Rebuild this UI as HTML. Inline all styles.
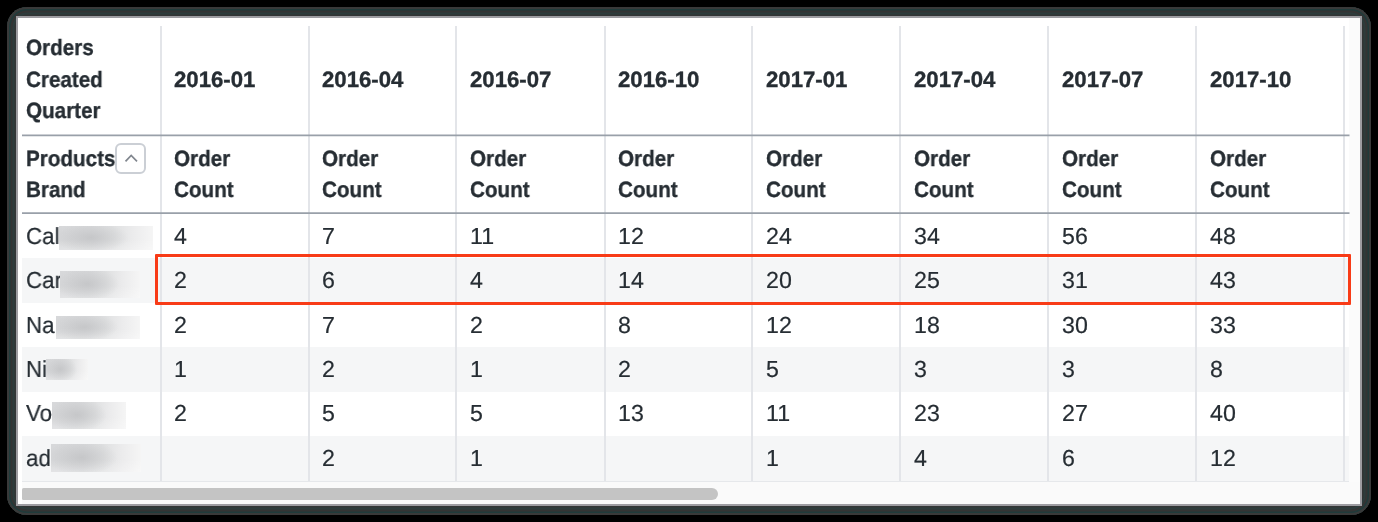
<!DOCTYPE html>
<html><head><meta charset="utf-8">
<style>
html,body{margin:0;padding:0;}
body{width:1378px;height:522px;background:#000;position:relative;overflow:hidden;font-family:"Liberation Sans",sans-serif;color:#262d33;text-rendering:geometricPrecision;}
.frame{position:absolute;left:6.7px;top:6.7px;width:1364.3px;height:508.3px;border-radius:20px;background:#323535;box-shadow:inset 0 0 0 2px #393939,inset 0 0 0 3.5px #203b3b,inset 0 0 0 5.5px #343434,inset 0 0 0 7.5px #2d3c3c;}
.inner{position:absolute;left:15.8px;top:15.8px;width:1342.2px;height:486px;background:#fff;border:2px solid #9d9ca1;}
.a{position:absolute;white-space:nowrap;will-change:transform;}
.vl{position:absolute;width:2px;background:#e3e5e9;}
.hl{position:absolute;height:2px;background:#9fa5ae;}
.band{position:absolute;left:22px;width:1327px;background:#f5f6f7;}
.b{font-weight:bold;font-size:22.2px;line-height:31.6px;-webkit-text-stroke:0.35px #262d33;}
.w{transform:scaleX(0.93);transform-origin:0 0;}
.oc{transform:scaleX(0.92);transform-origin:0 0;}
.dt{}
.d{font-size:23.2px;line-height:26px;-webkit-text-stroke:0.2px #262d33;}
.nm{transform:scaleX(0.96);transform-origin:0 0;}
.blur{position:absolute;}
</style></head><body>
<div class="frame"></div>
<div class="inner"></div>

<div class="a" style="left:22px;top:482px;width:1338px;height:21.8px;background:#fafafa"></div>
<div class="a" style="left:1349px;top:18px;width:11px;height:464px;background:#fbfbfb"></div>
<div class="band" style="top:258px;height:44.5px"></div>
<div class="band" style="top:347px;height:44.5px"></div>
<div class="band" style="top:436px;height:44.5px"></div>
<div class="a" style="left:22px;top:481px;width:1327px;height:1px;background:#e6e8eb"></div>
<div class="vl" style="left:160px;top:26px;height:455px"></div>
<div class="vl" style="left:308px;top:26px;height:455px"></div>
<div class="vl" style="left:455px;top:26px;height:455px"></div>
<div class="vl" style="left:604px;top:26px;height:455px"></div>
<div class="vl" style="left:751px;top:26px;height:455px"></div>
<div class="vl" style="left:899px;top:26px;height:455px"></div>
<div class="vl" style="left:1047px;top:26px;height:455px"></div>
<div class="vl" style="left:1195px;top:26px;height:455px"></div>
<div class="vl" style="left:1343px;top:26px;height:455px"></div>
<svg class="a" style="left:0;top:0" width="1378" height="522"><path d="M22 135.4H1349.5M22 213.1H1349.5" stroke="#99a0a9" stroke-width="1.7" fill="none"/></svg>
<div class="a b w" style="left:25.8px;top:32.1px">Orders<br>Created<br>Quarter</div>
<div class="a b dt" style="left:173.9px;top:64px">2016-01</div>
<div class="a b dt" style="left:321.9px;top:64px">2016-04</div>
<div class="a b dt" style="left:469.9px;top:64px">2016-07</div>
<div class="a b dt" style="left:617.9px;top:64px">2016-10</div>
<div class="a b dt" style="left:765.9px;top:64px">2017-01</div>
<div class="a b dt" style="left:913.9px;top:64px">2017-04</div>
<div class="a b dt" style="left:1061.9px;top:64px">2017-07</div>
<div class="a b dt" style="left:1209.9px;top:64px">2017-10</div>
<div class="a b w" style="left:25.6px;top:142.6px;line-height:31.3px">Products<br>Brand</div>
<div class="a b w" style="left:173.6px;top:142.8px;line-height:31.3px">Order<br>Count</div>
<div class="a b w" style="left:321.6px;top:142.8px;line-height:31.3px">Order<br>Count</div>
<div class="a b w" style="left:469.6px;top:142.8px;line-height:31.3px">Order<br>Count</div>
<div class="a b w" style="left:617.6px;top:142.8px;line-height:31.3px">Order<br>Count</div>
<div class="a b w" style="left:765.6px;top:142.8px;line-height:31.3px">Order<br>Count</div>
<div class="a b w" style="left:913.6px;top:142.8px;line-height:31.3px">Order<br>Count</div>
<div class="a b w" style="left:1061.6px;top:142.8px;line-height:31.3px">Order<br>Count</div>
<div class="a b w" style="left:1209.6px;top:142.8px;line-height:31.3px">Order<br>Count</div>
<div class="a" style="left:115.3px;top:142.8px;width:27.2px;height:27px;border:2px solid #cbcfd5;border-radius:6px;background:#fff"></div>
<svg class="a" style="left:116px;top:143.5px" width="30" height="30" viewBox="0 0 30 30"><path d="M9.5 17.3 L15.2 11.5 L21 17.3" fill="none" stroke="#80868e" stroke-width="1.7"/></svg>
<div class="a d nm" style="left:26.2px;top:222.50px">Cal</div>
<div class="blur" style="left:59px;top:226px;width:94px;height:24px;background:radial-gradient(ellipse 40% 62% at 34% 48%,rgba(192,193,195,0.75),rgba(192,193,195,0) 100%),linear-gradient(180deg,rgba(255,255,255,0) 55%,rgba(255,255,255,0.3) 100%),linear-gradient(90deg,#d7d8da 0%,#d8d9db 35%,#dfe0e1 58%,#ebebec 78%,#f5f5f5 100%)"></div>
<div class="a d" style="left:173.8px;top:222.50px">4</div>
<div class="a d" style="left:321.8px;top:222.50px">7</div>
<div class="a d" style="left:469.8px;top:222.50px">11</div>
<div class="a d" style="left:617.8px;top:222.50px">12</div>
<div class="a d" style="left:765.8px;top:222.50px">24</div>
<div class="a d" style="left:913.8px;top:222.50px">34</div>
<div class="a d" style="left:1061.8px;top:222.50px">56</div>
<div class="a d" style="left:1209.8px;top:222.50px">48</div>
<div class="a d nm" style="left:26.2px;top:267.35px">Car</div>
<div class="blur" style="left:60px;top:271px;width:80px;height:27px;background:radial-gradient(ellipse 40% 62% at 34% 48%,rgba(192,193,195,0.75),rgba(192,193,195,0) 100%),linear-gradient(180deg,rgba(255,255,255,0) 55%,rgba(255,255,255,0.3) 100%),linear-gradient(90deg,#d7d8da 0%,#d8d9db 35%,#dfe0e1 58%,#ebebec 78%,#f5f5f5 100%)"></div>
<div class="a d" style="left:173.8px;top:267.35px">2</div>
<div class="a d" style="left:321.8px;top:267.35px">6</div>
<div class="a d" style="left:469.8px;top:267.35px">4</div>
<div class="a d" style="left:617.8px;top:267.35px">14</div>
<div class="a d" style="left:765.8px;top:267.35px">20</div>
<div class="a d" style="left:913.8px;top:267.35px">25</div>
<div class="a d" style="left:1061.8px;top:267.35px">31</div>
<div class="a d" style="left:1209.8px;top:267.35px">43</div>
<div class="a d nm" style="left:26.2px;top:311.70px">Na</div>
<div class="blur" style="left:56px;top:316px;width:84px;height:23px;background:radial-gradient(ellipse 40% 62% at 34% 48%,rgba(192,193,195,0.75),rgba(192,193,195,0) 100%),linear-gradient(180deg,rgba(255,255,255,0) 55%,rgba(255,255,255,0.3) 100%),linear-gradient(90deg,#d7d8da 0%,#d8d9db 35%,#dfe0e1 58%,#ebebec 78%,#f5f5f5 100%)"></div>
<div class="a d" style="left:173.8px;top:311.70px">2</div>
<div class="a d" style="left:321.8px;top:311.70px">7</div>
<div class="a d" style="left:469.8px;top:311.70px">2</div>
<div class="a d" style="left:617.8px;top:311.70px">8</div>
<div class="a d" style="left:765.8px;top:311.70px">12</div>
<div class="a d" style="left:913.8px;top:311.70px">18</div>
<div class="a d" style="left:1061.8px;top:311.70px">30</div>
<div class="a d" style="left:1209.8px;top:311.70px">33</div>
<div class="a d nm" style="left:26.2px;top:356.05px">Ni</div>
<div class="blur" style="left:46px;top:359px;width:42px;height:21px;background:radial-gradient(ellipse 40% 62% at 34% 48%,rgba(192,193,195,0.75),rgba(192,193,195,0) 100%),linear-gradient(180deg,rgba(255,255,255,0) 55%,rgba(255,255,255,0.3) 100%),linear-gradient(90deg,#d7d8da 0%,#d8d9db 35%,#dfe0e1 58%,#ebebec 78%,#f5f5f5 100%)"></div>
<div class="a d" style="left:173.8px;top:356.05px">1</div>
<div class="a d" style="left:321.8px;top:356.05px">2</div>
<div class="a d" style="left:469.8px;top:356.05px">1</div>
<div class="a d" style="left:617.8px;top:356.05px">2</div>
<div class="a d" style="left:765.8px;top:356.05px">5</div>
<div class="a d" style="left:913.8px;top:356.05px">3</div>
<div class="a d" style="left:1061.8px;top:356.05px">3</div>
<div class="a d" style="left:1209.8px;top:356.05px">8</div>
<div class="a d nm" style="left:26.2px;top:400.40px">Vo</div>
<div class="blur" style="left:52px;top:402px;width:74px;height:27px;background:radial-gradient(ellipse 40% 62% at 34% 48%,rgba(192,193,195,0.75),rgba(192,193,195,0) 100%),linear-gradient(180deg,rgba(255,255,255,0) 55%,rgba(255,255,255,0.3) 100%),linear-gradient(90deg,#d7d8da 0%,#d8d9db 35%,#dfe0e1 58%,#ebebec 78%,#f5f5f5 100%)"></div>
<div class="a d" style="left:173.8px;top:400.40px">2</div>
<div class="a d" style="left:321.8px;top:400.40px">5</div>
<div class="a d" style="left:469.8px;top:400.40px">5</div>
<div class="a d" style="left:617.8px;top:400.40px">13</div>
<div class="a d" style="left:765.8px;top:400.40px">11</div>
<div class="a d" style="left:913.8px;top:400.40px">23</div>
<div class="a d" style="left:1061.8px;top:400.40px">27</div>
<div class="a d" style="left:1209.8px;top:400.40px">40</div>
<div class="a d nm" style="left:26.2px;top:444.75px">ad</div>
<div class="blur" style="left:51px;top:444px;width:90px;height:28px;background:radial-gradient(ellipse 40% 62% at 34% 48%,rgba(192,193,195,0.75),rgba(192,193,195,0) 100%),linear-gradient(180deg,rgba(255,255,255,0) 55%,rgba(255,255,255,0.3) 100%),linear-gradient(90deg,#d7d8da 0%,#d8d9db 35%,#dfe0e1 58%,#ebebec 78%,#f5f5f5 100%)"></div>
<div class="a d" style="left:321.8px;top:444.75px">2</div>
<div class="a d" style="left:469.8px;top:444.75px">1</div>
<div class="a d" style="left:765.8px;top:444.75px">1</div>
<div class="a d" style="left:913.8px;top:444.75px">4</div>
<div class="a d" style="left:1061.8px;top:444.75px">6</div>
<div class="a d" style="left:1209.8px;top:444.75px">12</div>
<div class="a" style="left:155px;top:253.5px;width:1190px;height:45.3px;border:3px solid #f83b17;border-radius:1px"></div>
<div class="a" style="left:22px;top:487.7px;width:696px;height:12px;border-radius:1.5px 6px 6px 1.5px;background:#c4c4c4"></div>
</body></html>
